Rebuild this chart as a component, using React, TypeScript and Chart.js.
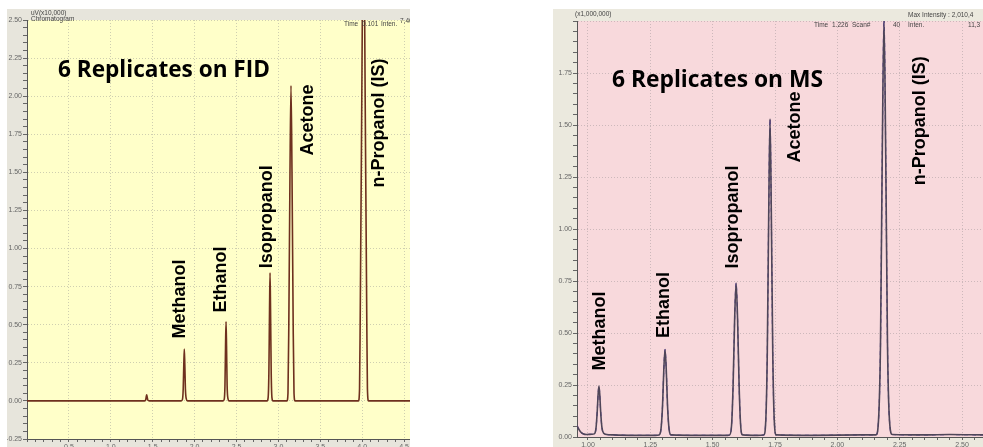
import React, { useEffect, useRef } from "react";
import { Chart, registerables } from "chart.js";

Chart.register(...registerables);

// ---------- FID panel data ----------
const fidTime = [
  0, 1.4, 1.415, 1.422, 1.428, 1.434, 1.442, 1.46,
  1.84, 1.855, 1.864, 1.871, 1.877, 1.883, 1.89, 1.9, 1.915,
  2.34, 2.353, 2.362, 2.369, 2.375, 2.381, 2.388, 2.398, 2.41,
  2.865, 2.877, 2.886, 2.894, 2.9, 2.906, 2.914, 2.923, 2.935,
  3.102, 3.114, 3.124, 3.138, 3.15, 3.162, 3.176, 3.186, 3.198,
  3.955, 3.968, 3.976, 3.995, 4.015, 4.035, 4.054, 4.062, 4.075, 4.57,
];
const fidSignal = [
  0, 0, 0.005, 0.025, 0.04, 0.025, 0.005, 0,
  0, 0.01, 0.08, 0.24, 0.34, 0.24, 0.08, 0.015, 0,
  0, 0.01, 0.1, 0.36, 0.52, 0.36, 0.1, 0.015, 0,
  0, 0.02, 0.18, 0.6, 0.84, 0.6, 0.18, 0.02, 0,
  0, 0.05, 0.5, 1.5, 2.07, 1.5, 0.5, 0.05, 0,
  0, 0.08, 0.55, 2.0, 3.4, 2.0, 0.55, 0.08, 0, 0,
];
const fidPeakNames = ["Methanol", "Ethanol", "Isopropanol", "Acetone", "n-Propanol (IS)"];
const fidPeakTimes = [1.877, 2.375, 2.9, 3.15, 4.015];
const fidXTickLabels = ["0.5", "1.0", "1.5", "2.0", "2.5", "3.0", "3.5", "4.0", "4.5"];
const fidYTickLabels = ["-0.25", "0.00", "0.25", "0.50", "0.75", "1.00", "1.25", "1.50", "1.75", "2.00", "2.25", "2.50"];

// ---------- MS panel data ----------
const msTime = [
  0.956, 0.962, 0.97, 0.98, 0.995, 1.015,
  1.025, 1.032, 1.037, 1.041, 1.044, 1.047, 1.051, 1.056, 1.063, 1.075,
  1.1, 1.2, 1.27,
  1.285, 1.293, 1.299, 1.304, 1.309, 1.314, 1.319, 1.325, 1.333,
  1.45, 1.56,
  1.568, 1.576, 1.582, 1.588, 1.594, 1.6, 1.606, 1.612, 1.62,
  1.68,
  1.705, 1.713, 1.719, 1.725, 1.73, 1.735, 1.741, 1.747, 1.755,
  1.9, 2.1,
  2.155, 2.165, 2.173, 2.18, 2.187, 2.194, 2.201, 2.209, 2.22,
  2.35, 2.45, 2.584,
];
const msSignal = [
  0.055, 0.04, 0.025, 0.016, 0.012, 0.013,
  0.015, 0.04, 0.12, 0.21, 0.245, 0.21, 0.12, 0.045, 0.018, 0.012,
  0.01, 0.008, 0.008,
  0.01, 0.04, 0.15, 0.32, 0.42, 0.32, 0.15, 0.04, 0.01,
  0.008, 0.008,
  0.01, 0.06, 0.25, 0.56, 0.74, 0.56, 0.25, 0.06, 0.01,
  0.008,
  0.01, 0.08, 0.4, 1.1, 1.53, 1.1, 0.4, 0.08, 0.01,
  0.008, 0.01,
  0.01, 0.08, 0.45, 1.35, 2.01, 1.35, 0.45, 0.08, 0.012,
  0.01, 0.012, 0.01,
];
const msPeakNames = ["Methanol", "Ethanol", "Isopropanol", "Acetone", "n-Propanol (IS)"];
const msPeakTimes = [1.044, 1.309, 1.594, 1.73, 2.187];
const msXTickLabels = ["1.00", "1.25", "1.50", "1.75", "2.00", "2.25", "2.50"];
const msYTickLabels = ["0.00", "0.25", "0.50", "0.75", "1.00", "1.25", "1.50", "1.75"];

// ---------- helpers ----------
const isMajor = (v: number, step: number) => Math.abs(v / step - Math.round(v / step)) < 1e-6;
const pickLabel = (arr: string[], v: number) => {
  const s = arr.find((l) => Math.abs(parseFloat(l) - v) < 1e-6);
  return s === undefined ? "" : s;
};

type LabelPos = { dx: number; v: number };
type HeaderText = { text: string; x: number; y: number; align?: CanvasTextAlign };

function makePlugin(cfg: {
  plotBg: string;
  names: string[];
  times: number[];
  pos: LabelPos[];
  title: string;
  titleX: number;
  titleY: number;
  titleW: number;
  headers: HeaderText[];
}) {
  return {
    id: "chrom",
    beforeDraw(chart: any) {
      const { ctx, chartArea: a } = chart;
      ctx.save();
      ctx.fillStyle = cfg.plotBg;
      ctx.fillRect(a.left, a.top, a.right - a.left, a.bottom - a.top);
      ctx.restore();
    },
    afterDraw(chart: any) {
      const { ctx } = chart;
      const xs = chart.scales.x;
      const ys = chart.scales.y;
      ctx.save();
      // peak labels (rotated)
      ctx.fillStyle = "#000";
      ctx.font = "bold 18px 'Liberation Sans', Arial, sans-serif";
      ctx.textAlign = "left";
      ctx.textBaseline = "middle";
      cfg.names.forEach((name, i) => {
        const px = xs.getPixelForValue(cfg.times[i]) + cfg.pos[i].dx;
        const py = ys.getPixelForValue(cfg.pos[i].v);
        ctx.save();
        ctx.translate(px, py);
        ctx.rotate(-Math.PI / 2);
        ctx.fillText(name, 0, 0);
        ctx.restore();
      });
      // title
      let fs = 21;
      ctx.font = `bold ${fs}px 'Open Sans', 'Noto Sans', sans-serif`;
      const w = ctx.measureText(cfg.title).width;
      fs = fs * (cfg.titleW / w);
      ctx.font = `bold ${fs.toFixed(2)}px 'Open Sans', 'Noto Sans', sans-serif`;
      ctx.fillStyle = "#000";
      ctx.fillText(cfg.title, cfg.titleX, cfg.titleY);
      // headers
      ctx.font = "6.5px 'Liberation Sans', Arial, sans-serif";
      ctx.fillStyle = "#444";
      ctx.textBaseline = "middle";
      cfg.headers.forEach((h) => {
        ctx.textAlign = h.align || "left";
        ctx.fillText(h.text, h.x, h.y);
      });
      ctx.restore();
    },
  };
}

function buildConfig(o: {
  time: number[];
  signal: number[];
  overlay: boolean;
  lineColor: string;
  xmin: number;
  xmax: number;
  xstep: number;
  xmajor: number;
  xlabels: string[];
  ymin: number;
  ymax: number;
  ystep: number;
  ymajor: number;
  ylabels: string[];
  yAxisW: number;
  xAxisH: number;
  padTop: number;
  gridColor: string;
  plugin: any;
}) {
  const pts = o.time.map((t, i) => ({ x: t, y: o.signal[i] }));
  const datasets: any[] = [
    {
      data: pts,
      borderColor: o.lineColor,
      borderWidth: 1.6,
      pointRadius: 0,
      cubicInterpolationMode: "monotone",
      fill: false,
    },
  ];
  if (o.overlay) {
    datasets.push({
      data: pts,
      borderColor: "#5a3cb4",
      borderWidth: 1.2,
      borderDash: [4, 4],
      pointRadius: 0,
      cubicInterpolationMode: "monotone",
      fill: false,
    });
  }
  const tickFont = { size: 7, family: "'Liberation Sans', Arial, sans-serif" };
  return {
    type: "line",
    data: { datasets },
    options: {
      animation: false,
      responsive: false,
      events: [],
      layout: { padding: { top: o.padTop, left: 0, right: 0, bottom: 0 }, autoPadding: false },
      plugins: { legend: { display: false }, tooltip: { enabled: false } },
      scales: {
        x: {
          type: "linear",
          min: o.xmin,
          max: o.xmax,
          afterFit: (s: any) => {
            s.height = o.xAxisH;
            s.paddingLeft = 0;
            s.paddingRight = 0;
          },
          ticks: {
            stepSize: o.xstep,
            autoSkip: false,
            includeBounds: false,
            maxRotation: 0,
            minRotation: 0,
            padding: 1,
            color: "#666",
            font: tickFont,
            callback: (v: any) => pickLabel(o.xlabels, Number(v)),
          },
          grid: {
            color: (c: any) => (c.tick && isMajor(c.tick.value, o.xmajor) ? o.gridColor : "rgba(0,0,0,0)"),
            tickColor: "#666",
            tickLength: 3,
            lineWidth: 1,
          },
          border: { color: "#555", width: 1, dash: [1, 2] },
        },
        y: {
          type: "linear",
          min: o.ymin,
          max: o.ymax,
          afterFit: (s: any) => {
            s.width = o.yAxisW;
            s.paddingTop = 0;
            s.paddingBottom = 0;
          },
          ticks: {
            stepSize: o.ystep,
            autoSkip: false,
            includeBounds: false,
            padding: 1,
            color: "#666",
            font: tickFont,
            callback: (v: any) => pickLabel(o.ylabels, Number(v)),
          },
          grid: {
            color: (c: any) => (c.tick && isMajor(c.tick.value, o.ymajor) ? o.gridColor : "rgba(0,0,0,0)"),
            tickColor: "#666",
            tickLength: 4,
            lineWidth: 1,
          },
          border: { color: "#555", width: 1, dash: [1, 2] },
        },
      },
    },
    plugins: [o.plugin],
  };
}

// panel origins (page px)
const FID_L = 7, FID_T = 9, FID_W = 403, FID_H = 438;
const MS_L = 553, MS_T = 9, MS_W = 430, MS_H = 438;

function fidConfig() {
  const plugin = makePlugin({
    plotBg: "#ffffc9",
    names: fidPeakNames,
    times: fidPeakTimes,
    pos: [
      { dx: -4, v: 0.41 },
      { dx: -5, v: 0.58 },
      { dx: -3, v: 0.87 },
      { dx: 17, v: 1.61 },
      { dx: 16, v: 1.4 },
    ],
    title: "6 Replicates on FID",
    titleX: 58 - FID_L,
    titleY: 71 - FID_T,
    titleW: 212,
    headers: [
      { text: "uV(x10,000)", x: 31 - FID_L, y: 13 - FID_T },
      { text: "Chromatogram", x: 31 - FID_L, y: 19 - FID_T },
      { text: "Time", x: 344 - FID_L, y: 24 - FID_T },
      { text: "0.101", x: 362 - FID_L, y: 24 - FID_T },
      { text: "Inten.", x: 381 - FID_L, y: 24 - FID_T },
      { text: "7,403", x: 400 - FID_L, y: 21 - FID_T },
    ],
  });
  return buildConfig({
    time: fidTime,
    signal: fidSignal,
    overlay: false,
    lineColor: "#6e301e",
    xmin: 0,
    xmax: 4.57,
    xstep: 0.1,
    xmajor: 0.5,
    xlabels: fidXTickLabels,
    ymin: -0.25,
    ymax: 2.5,
    ystep: 0.05,
    ymajor: 0.25,
    ylabels: fidYTickLabels,
    yAxisW: 20,
    xAxisH: 8,
    padTop: 11,
    gridColor: "#cfcfb0",
    plugin,
  });
}

function msConfig() {
  const plugin = makePlugin({
    plotBg: "#f8d9dc",
    names: msPeakNames,
    times: msPeakTimes,
    pos: [
      { dx: 1, v: 0.32 },
      { dx: -1, v: 0.476 },
      { dx: -3, v: 0.81 },
      { dx: 25, v: 1.32 },
      { dx: 36, v: 1.21 },
    ],
    title: "6 Replicates on MS",
    titleX: 612 - MS_L,
    titleY: 81 - MS_T,
    titleW: 211,
    headers: [
      { text: "(x1,000,000)", x: 575 - MS_L, y: 14 - MS_T },
      { text: "Max Intensity : 2,010,4", x: 908 - MS_L, y: 15 - MS_T },
      { text: "Time", x: 814 - MS_L, y: 25 - MS_T },
      { text: "1.226", x: 832 - MS_L, y: 25 - MS_T },
      { text: "Scan#", x: 852 - MS_L, y: 25 - MS_T },
      { text: "40", x: 893 - MS_L, y: 25 - MS_T },
      { text: "Inten.", x: 908 - MS_L, y: 25 - MS_T },
      { text: "11,3", x: 968 - MS_L, y: 25 - MS_T },
    ],
  });
  return buildConfig({
    time: msTime,
    signal: msSignal,
    overlay: true,
    lineColor: "#4f4658",
    xmin: 0.956,
    xmax: 2.584,
    xstep: 0.05,
    xmajor: 0.25,
    xlabels: msXTickLabels,
    ymin: 0,
    ymax: 2.0,
    ystep: 0.05,
    ymajor: 0.25,
    ylabels: msYTickLabels,
    yAxisW: 24,
    xAxisH: 10,
    padTop: 12,
    gridColor: "#cdb8bb",
    plugin,
  });
}

function Panel(props: { left: number; top: number; width: number; height: number; bg: string; build: () => any }) {
  const ref = useRef<HTMLCanvasElement>(null);
  useEffect(() => {
    const chart = new Chart(ref.current as HTMLCanvasElement, props.build());
    return () => chart.destroy();
  }, []);
  return (
    <div
      style={{
        position: "absolute",
        left: props.left,
        top: props.top,
        width: props.width,
        height: props.height,
        background: props.bg,
      }}
    >
      <canvas
        ref={ref}
        width={props.width}
        height={props.height}
        style={{ display: "block", width: props.width, height: props.height }}
      />
    </div>
  );
}

export default function App() {
  return (
    <div
      style={{
        position: "absolute",
        left: 0,
        top: 0,
        width: 983,
        height: 447,
        overflow: "hidden",
        background: "#ffffff",
      }}
    >
      <Panel left={FID_L} top={FID_T} width={FID_W} height={FID_H} bg="#e7e5dc" build={fidConfig} />
      <Panel left={MS_L} top={MS_T} width={MS_W} height={MS_H} bg="#ebe9de" build={msConfig} />
    </div>
  );
}
